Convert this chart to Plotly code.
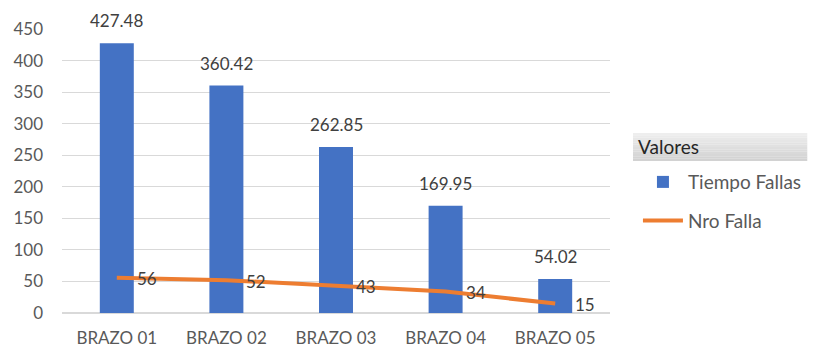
import plotly.graph_objects as go

categories = ["BRAZO 01", "BRAZO 02", "BRAZO 03", "BRAZO 04", "BRAZO 05"]
tiempo_fallas = [427.48, 360.42, 262.85, 169.95, 54.02]
nro_falla = [56, 52, 43, 34, 15]
y_ticks = [0, 50, 100, 150, 200, 250, 300, 350, 400, 450]

FONT = "Lato"
LABEL = dict(size=17, color="#404040", family=FONT)

fig = go.Figure()
fig.add_trace(go.Bar(
    x=categories, y=tiempo_fallas, name="Tiempo Fallas",
    marker=dict(color="#4472C4", line=dict(width=0)),
    width=0.31, legendgroup="a",
))
fig.add_trace(go.Scatter(
    x=categories, y=nro_falla, name="Nro Falla", mode="lines",
    line=dict(color="#ED7D31", width=4), legendgroup="b",
))

annotations = []
for c, v in zip(categories, tiempo_fallas):
    annotations.append(dict(x=c, y=v, xref="x", yref="y", text=f"{v:.2f}",
                            showarrow=False, yanchor="bottom", yshift=10, font=LABEL))
for c, v in zip(categories, nro_falla):
    annotations.append(dict(x=c, y=v, xref="x", yref="y", text=str(v),
                            showarrow=False, xanchor="left", xshift=18, yshift=-1, font=LABEL))
annotations.append(dict(x=1.042, y=0.585, xref="paper", yref="paper", text="Valores",
                        showarrow=False, xanchor="left", yanchor="middle", xshift=3,
                        font=dict(size=19, color="#262626", family=FONT)))

# legend header band (gradient-like)
shapes = []
n = 12
top, bot = 0.634, 0.535
step = (top - bot) / n
for i in range(n):
    g = int(0xee - (0xee - 0xd2) * i / (n - 1))
    shapes.append(dict(type="rect", xref="paper", yref="paper", x0=1.042, x1=1.36,
                       y0=top - (i + 1) * step, y1=top - i * step,
                       fillcolor=f"rgb({g},{g},{g})", line=dict(width=0), layer="below"))

fig.update_layout(
    width=815, height=348,
    margin=dict(l=62, r=205, t=29, b=35, autoexpand=False),
    paper_bgcolor="white", plot_bgcolor="white",
    font=dict(family=FONT, color="#595959", size=17),
    xaxis=dict(showgrid=False, showline=False, ticks="", automargin=False,
               tickfont=dict(size=17, color="#595959"), ticklabelstandoff=13),
    yaxis=dict(range=[0, 450], tickvals=y_ticks, showgrid=True, gridcolor="#d9d9d9",
               gridwidth=1, zeroline=True, zerolinecolor="#d9d9d9", ticks="", automargin=False,
               tickfont=dict(size=17, color="#595959"), ticklabelstandoff=18),
    legend=dict(x=1.051, y=0.528, xanchor="left", yanchor="top",
                font=dict(size=19, color="#595959", family=FONT),
                tracegroupgap=11, itemwidth=40, bgcolor="rgba(0,0,0,0)"),
    annotations=annotations,
    shapes=shapes,
)
fig.write_html("out.html")
